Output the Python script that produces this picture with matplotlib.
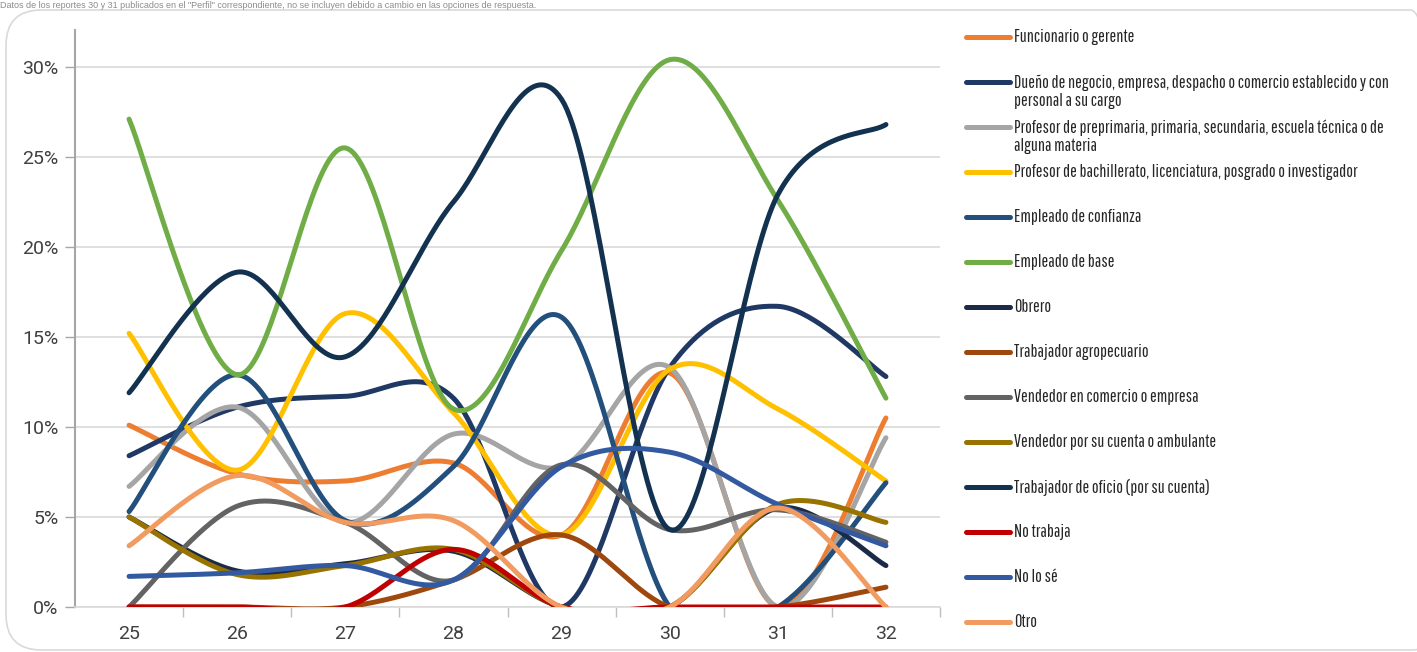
import numpy as np
import matplotlib
matplotlib.use("Agg")
import matplotlib.pyplot as plt
from matplotlib.lines import Line2D
from matplotlib.patches import FancyBboxPatch
from matplotlib.ticker import FuncFormatter, MultipleLocator

# data (percent), reports 25..32
reportes = [25, 26, 27, 28, 29, 30, 31, 32]

funcionario = [10.1, 7.4, 7.0, 8.0, 4.0, 13.0, 0.0, 10.5]
dueno = [8.4, 11.1, 11.7, 11.6, 0.0, 13.3, 16.7, 12.8]
prof_basica = [6.7, 11.1, 4.7, 9.6, 7.8, 13.3, 0.0, 9.4]
prof_superior = [15.2, 7.6, 16.3, 10.8, 4.0, 13.2, 11.0, 7.0]
confianza = [5.3, 12.9, 4.8, 7.8, 16.1, 0.0, 0.0, 6.9]
base = [27.1, 12.9, 25.5, 11.0, 19.8, 30.4, 22.6, 11.6]
obrero = [5.0, 2.0, 2.4, 3.1, 0.0, 0.0, 5.5, 2.3]
agro = [0.0, 0.0, 0.0, 1.5, 4.0, 0.0, 0.0, 1.1]
vend_com = [0.0, 5.6, 4.7, 1.5, 7.9, 4.3, 5.4, 3.6]
vend_amb = [5.0, 1.8, 2.3, 3.2, 0.0, 0.0, 5.7, 4.7]
oficio = [11.9, 18.6, 13.9, 22.5, 28.2, 4.3, 22.9, 26.8]
no_trabaja = [0.0, 0.0, 0.0, 3.2, 0.0, 0.0, 0.0, 0.0]
no_se = [1.7, 1.9, 2.3, 1.5, 7.8, 8.6, 5.7, 3.4]
otro = [3.4, 7.3, 4.7, 4.8, 0.0, 0.0, 5.5, 0.0]

labels = [
    "Funcionario o gerente",
    "Dueño de negocio, empresa, despacho o comercio establecido y con\npersonal a su cargo",
    "Profesor de preprimaria, primaria, secundaria, escuela técnica o de\nalguna materia",
    "Profesor de bachillerato, licenciatura, posgrado o investigador",
    "Empleado de confianza",
    "Empleado de base",
    "Obrero",
    "Trabajador agropecuario",
    "Vendedor en comercio o empresa",
    "Vendedor por su cuenta o ambulante",
    "Trabajador de oficio (por su cuenta)",
    "No trabaja",
    "No lo sé",
    "Otro",
]
series = [funcionario, dueno, prof_basica, prof_superior, confianza, base, obrero,
          agro, vend_com, vend_amb, oficio, no_trabaja, no_se, otro]
colors = ["#ED7D31", "#203864", "#A5A5A5", "#FFC000", "#234F7D", "#70AD47", "#1B2A47",
          "#9E480E", "#636363", "#997300", "#133250", "#C00000", "#335AA1", "#F29B60"]

legend_font = ["Pathway Gothic One", "Roboto Condensed", "DejaVu Sans"]
tick_font = ["Roboto", "DejaVu Sans"]


def smooth(x, y, n=40):
    # catmull-rom style smoothing like the spreadsheet "smoothed line"
    x = np.asarray(x, float)
    y = np.asarray(y, float)
    px = np.concatenate([[x[0]], x, [x[-1]]])
    py = np.concatenate([[y[0]], y, [y[-1]]])
    xs, ys = [], []
    t = np.linspace(0, 1, n)
    for i in range(1, len(px) - 2):
        p0 = np.array([px[i], py[i]])
        p3 = np.array([px[i + 1], py[i + 1]])
        p1 = p0 + (np.array([px[i + 1], py[i + 1]]) - np.array([px[i - 1], py[i - 1]])) / 6
        p2 = p3 - (np.array([px[i + 2], py[i + 2]]) - np.array([px[i], py[i]])) / 6
        b = ((1 - t) ** 3)[:, None] * p0 + (3 * (1 - t) ** 2 * t)[:, None] * p1 \
            + (3 * (1 - t) * t ** 2)[:, None] * p2 + (t ** 3)[:, None] * p3
        xs.extend(b[:, 0])
        ys.extend(b[:, 1])
    return np.array(xs), np.array(ys)


fig = plt.figure(figsize=(14.17, 6.52), dpi=100)

# rounded frame
frame = FancyBboxPatch((6 / 1417, 2 / 652), 1440 / 1417, 640 / 652,
                       boxstyle="round,pad=0,rounding_size=0.025",
                       transform=fig.transFigure, facecolor="none",
                       edgecolor="#D9D9D9", lw=1.2, mutation_aspect=1417 / 652)
fig.patches.append(frame)

fig.text(0.0, 1 - 1 / 652,
         "Datos de los reportes 30 y 31 publicados en el \"Perfil\" correspondiente, "
         "no se incluyen debido a cambio en las opciones de respuesta.",
         fontsize=6.5, color="#8C8C8C", family="Liberation Sans", va="top")

ax = fig.add_axes([75 / 1417, 45 / 652, 865 / 1417, 577 / 652])

for vals, c in zip(series, colors):
    sx, sy = smooth(reportes, vals)
    ax.plot(sx, sy, color=c, lw=3.6, solid_capstyle="round", solid_joinstyle="round",
            zorder=3, clip_on=True)

ax.set_xlim(24.5, 32.5)
ax.set_ylim(0, 32.05)
ax.yaxis.set_major_locator(MultipleLocator(5))
ax.yaxis.set_major_formatter(FuncFormatter(lambda v, p: f"{v:.0f}%"))
ax.set_xticks(reportes)
ax.set_xticks(np.arange(25.5, 33, 1), minor=True)
ax.tick_params(axis="x", which="major", length=0, pad=13, labelsize=14, labelcolor="#404040")
ax.tick_params(axis="x", which="minor", length=7, color="#BFBFBF", width=1)
ax.tick_params(axis="y", length=7, color="#A6A6A6", width=1, pad=5, labelsize=14,
               labelcolor="#404040")
for lab in ax.get_xticklabels() + ax.get_yticklabels():
    lab.set_family(tick_font)

ax.grid(axis="y", color="#D9D9D9", lw=1.2, zorder=0)
ax.set_axisbelow(True)
for s in ["top", "right"]:
    ax.spines[s].set_visible(False)
ax.spines["left"].set_color("#A6A6A6")
ax.spines["left"].set_linewidth(1.5)
ax.spines["bottom"].set_color("#D9D9D9")
ax.spines["bottom"].set_linewidth(1.2)

# legend drawn at right, one entry every 45 px
for i, (lab, c) in enumerate(zip(labels, colors)):
    ypix = 37 + 45 * i
    yf = 1 - ypix / 652
    fig.add_artist(Line2D([966 / 1417, 1010 / 1417], [yf, yf], color=c, lw=3.6,
                          solid_capstyle="round", transform=fig.transFigure))
    fig.text(1014 / 1417, yf + 8 / 652, lab, fontsize=13, color="#262626", va="top",
             family=legend_font, linespacing=1.2)

fig.savefig("out.png", dpi=100)
